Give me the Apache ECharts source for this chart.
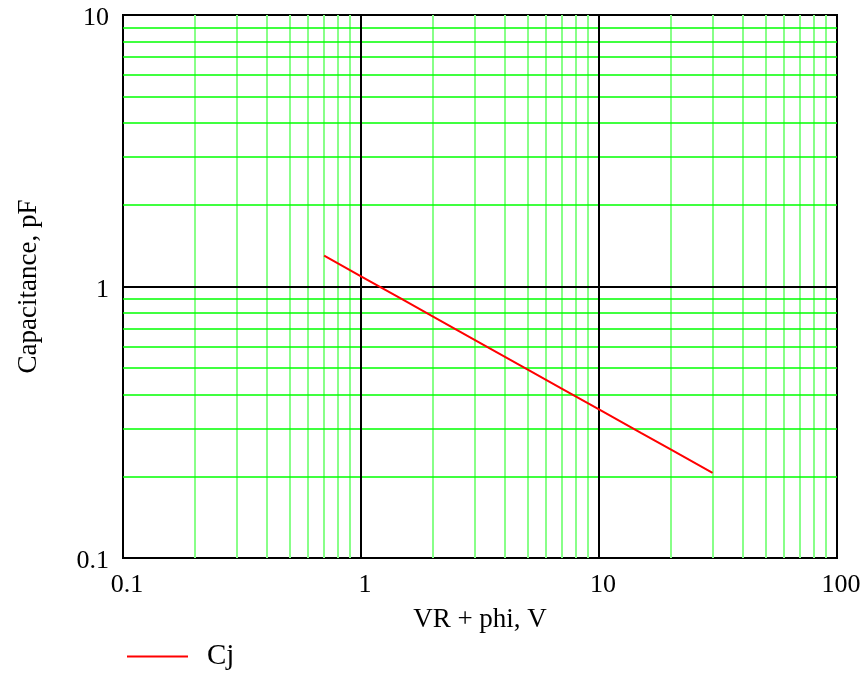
<!DOCTYPE html>
<html>
<head>
<meta charset="utf-8">
<script src="https://cdn.jsdelivr.net/npm/echarts@6/dist/echarts.min.js"></script>
<style>html,body{margin:0;padding:0;background:#fff}#c{width:866px;height:673px}</style>
</head>
<body>
<div id="c"></div>
<script>
// Data
var vrPhi = [0.7, 1, 1.5, 2, 3, 5, 7, 10, 15, 20, 30];
var cj    = [1.30, 1.09, 0.894, 0.776, 0.636, 0.495, 0.42, 0.353, 0.289, 0.251, 0.206];
var xTickLabels = ['0.1', '1', '10', '100'];
var yTickLabels = ['0.1', '1', '10'];
var xMinorGrid = [0.2,0.3,0.4,0.5,0.6,0.7,0.8,0.9, 2,3,4,5,6,7,8,9, 20,30,40,50,60,70,80,90];
var xMajorGrid = [1, 10];
var yMinorGrid = [0.2,0.3,0.4,0.5,0.6,0.7,0.8,0.9, 2,3,4,5,6,7,8,9];
var yMajorGrid = [1];

var FONT = '"Liberation Serif", "Times New Roman", serif';
function fmt(labels){
  return function(v){
    var e = Math.round(Math.log10(v));
    var s = labels.filter(function(l){ return Math.round(Math.log10(parseFloat(l))) === e; });
    return s.length ? s[0] : '';
  };
}
function lines(arr, key){ return arr.map(function(v){ var o={}; o[key]=v; return o; }); }

var chart = echarts.init(document.getElementById('c'));
chart.setOption({
  animation: false,
  grid: { left: 123, top: 15, width: 714, height: 543, show: true, borderColor: '#000', borderWidth: 2, backgroundColor: 'transparent' },
  legend: {
    data: [{ name: 'Cj', icon: 'rect' }], left: 122, top: 637, itemWidth: 61, itemHeight: 2,
    textStyle: { fontFamily: FONT, fontSize: 29, color: '#000', padding: [0,0,0,14] }
  },
  xAxis: {
    type: 'log', logBase: 10, min: 0.1, max: 100, interval: 1,
    name: 'VR + phi, V', nameLocation: 'middle', nameGap: 48,
    nameTextStyle: { fontFamily: FONT, fontSize: 27, color: '#000' },
    axisLine: { show: true, lineStyle: { color: '#000', width: 2 } },
    axisTick: { show: false }, splitLine: { show: false },
    axisLabel: { formatter: fmt(xTickLabels), fontFamily: FONT, fontSize: 26, color: '#000', margin: 14, padding: [0,0,0,8] }
  },
  yAxis: {
    type: 'log', logBase: 10, min: 0.1, max: 10, interval: 1,
    name: 'Capacitance, pF', nameLocation: 'middle', nameGap: 81,
    nameTextStyle: { fontFamily: FONT, fontSize: 27, color: '#000' },
    axisLine: { show: true, lineStyle: { color: '#000', width: 2 } },
    axisTick: { show: false }, splitLine: { show: false },
    axisLabel: { formatter: fmt(yTickLabels), fontFamily: FONT, fontSize: 26, color: '#000', margin: 14, verticalAlign: 'top', lineHeight: 7 }
  },
  series: [
    { name: 'gridMinorX', type: 'line', data: [], z: 1, silent: true,
      markLine: { silent: true, symbol: 'none', label: { show: false }, animation: false,
        lineStyle: { color: '#88ff88', width: 2, type: 'solid' }, data: lines(xMinorGrid, 'xAxis') } },
    { name: 'gridMinorY', type: 'line', data: [], z: 1, silent: true,
      markLine: { silent: true, symbol: 'none', label: { show: false }, animation: false,
        lineStyle: { color: '#00ff00', width: 1.5, type: 'solid' }, data: lines(yMinorGrid, 'yAxis') } },
    { name: 'gridMajor', type: 'line', data: [], z: 2, silent: true,
      markLine: { silent: true, symbol: 'none', label: { show: false }, animation: false,
        lineStyle: { color: '#000', width: 2, type: 'solid' },
        data: lines(xMajorGrid, 'xAxis').concat(lines(yMajorGrid, 'yAxis')) } },
    { name: 'Cj', type: 'line', z: 5, symbol: 'none', showSymbol: false,
      lineStyle: { color: '#ff0000', width: 2 }, itemStyle: { color: '#ff0000' },
      data: vrPhi.map(function(x, i){ return [x, cj[i]]; }) }
  ]
});
</script>
</body>
</html>
